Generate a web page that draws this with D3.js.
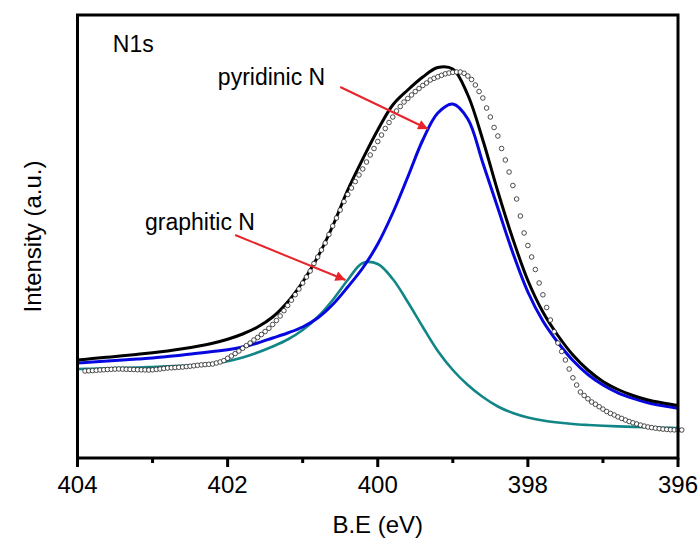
<!DOCTYPE html>
<html>
<head>
<meta charset="utf-8">
<script src="https://cdn.jsdelivr.net/npm/d3@7"></script>
<style>
  body { margin: 0; background: #fff; }
  text { font-family: Arial, "Liberation Sans", sans-serif; fill: #000; }
</style>
</head>
<body>
<svg id="chart" width="699" height="540"></svg>
<script>
// energies (eV) of the fitted curves, every 0.2 eV
const fitEnergy = [404, 403.8, 403.6, 403.4, 403.2, 403, 402.8, 402.6, 402.4, 402.2,
  402, 401.8, 401.6, 401.4, 401.2, 401, 400.8, 400.6, 400.4, 400.2,
  400, 399.8, 399.6, 399.4, 399.2, 399, 398.8, 398.6, 398.4, 398.2,
  398, 397.8, 397.6, 397.4, 397.2, 397, 396.8, 396.6, 396.4, 396.2, 396];

// envelope (black)
const envelope = [980, 994, 1008, 1022, 1037, 1053, 1071, 1092, 1117, 1148,
  1188, 1240, 1310, 1410, 1560, 1760, 2010, 2320, 2680, 2990,
  3280, 3530, 3680, 3810, 3905, 3890, 3630, 3180, 2665, 2190,
  1775, 1460, 1225, 1030, 880, 765, 685, 625, 580, 550, 525];

// pyridinic N component (blue)
const pyridinic = [950, 960, 970, 980, 990, 1000, 1015, 1030, 1048, 1065,
  1082, 1110, 1150, 1200, 1250, 1310, 1400, 1535, 1710, 1900,
  2140, 2450, 2810, 3180, 3450, 3540, 3390, 2950, 2500, 2050,
  1660, 1370, 1155, 975, 835, 730, 652, 597, 553, 522, 498];

// graphitic N component (teal)
const graphitic = [890, 893, 897, 901, 905, 910, 916, 923, 932, 945,
  968, 1005, 1055, 1115, 1185, 1280, 1410, 1580, 1780, 1950,
  1940, 1790, 1560, 1310, 1070, 880, 730, 610, 515, 450,
  405, 375, 355, 340, 330, 322, 316, 311, 307, 303, 300];

// measured spectrum (open circles), from 403.9 eV in 0.05 eV steps
const DOT_START = 403.9;
const DOT_STEP = 0.05;
const measured = [870, 872, 874, 877, 880, 882, 885, 887, 889, 890,
  889, 887, 886, 885, 883, 882, 881, 880, 882, 886,
  890, 895, 900, 902, 905, 907, 910, 914, 918, 922,
  927, 931, 934, 937, 940, 950, 960, 974, 997, 1020,
  1044, 1070, 1097, 1124, 1150, 1180, 1206, 1235, 1265, 1297,
  1335, 1375, 1420, 1473, 1525, 1578, 1633, 1690, 1750, 1810,
  1870, 1945, 2010, 2080, 2150, 2235, 2320, 2400, 2480, 2564,
  2635, 2700, 2764, 2830, 2890, 2960, 3030, 3095, 3165, 3230,
  3295, 3355, 3410, 3470, 3515, 3560, 3595, 3630, 3665, 3695,
  3725, 3750, 3780, 3797, 3812, 3827, 3842, 3850, 3857, 3860,
  3860, 3847, 3820, 3785, 3730, 3665, 3600, 3500, 3410, 3305,
  3220, 3095, 2980, 2860, 2725, 2590, 2420, 2250, 2125, 2010,
  1885, 1750, 1632, 1505, 1380, 1263, 1150, 1065, 980, 890,
  802, 730, 660, 625, 592, 560, 537, 513, 489, 465,
  446, 430, 411, 396, 380, 365, 352, 340, 329, 319,
  310, 304, 298, 293, 289, 286, 283, 281, 280, 280];

const majorTicks = [404, 402, 400, 398, 396];
const minorTicks = [403, 401, 399, 397];

// annotation labels and arrows, in data units
const labels = [
  { text: "N1s", e: 403.53, v: 4060 },
  { text: "pyridinic N", e: 402.13, v: 3730 },
  { text: "graphitic N", e: 403.1, v: 2280 }
];
const arrows = [
  { from: [400.5, 3710], to: [399.33, 3290] },
  { from: [401.9, 2230], to: [400.43, 1780] }
];

const margin = { top: 15, right: 21, bottom: 82, left: 77.5 };
const width = 699 - margin.left - margin.right;
const height = 540 - margin.top - margin.bottom;

const svg = d3.select("#chart");
const g = svg.append("g").attr("transform", `translate(${margin.left},${margin.top})`);

const x = d3.scaleLinear().domain([404, 396]).range([0, width]);
const y = d3.scaleLinear().domain([0, 4430]).range([height, 0]);

const line = d3.line()
  .x(d => x(d[0]))
  .y(d => y(d[1]))
  .curve(d3.curveCatmullRom.alpha(0.5));

const series = [
  { values: graphitic, color: "#128686", w: 2.6 },
  { values: pyridinic, color: "#0707e0", w: 3 },
  { values: envelope, color: "#000", w: 3 }
];

series.forEach(s => {
  g.append("path")
    .datum(fitEnergy.map((e, i) => [e, s.values[i]]))
    .attr("fill", "none")
    .attr("stroke", s.color)
    .attr("stroke-width", s.w)
    .attr("stroke-linejoin", "round")
    .attr("d", line);
});

// open circles
g.append("g")
  .selectAll("circle")
  .data(measured)
  .join("circle")
  .attr("cx", (d, i) => x(DOT_START - i * DOT_STEP))
  .attr("cy", d => y(d))
  .attr("r", 2.3)
  .attr("fill", "#fff")
  .attr("stroke", "#222")
  .attr("stroke-width", 0.8);

// red arrows
svg.append("defs").append("marker")
  .attr("id", "head")
  .attr("viewBox", "0 0 10 10")
  .attr("refX", 10).attr("refY", 5)
  .attr("markerWidth", 7).attr("markerHeight", 5)
  .attr("markerUnits", "strokeWidth")
  .attr("orient", "auto")
  .append("path")
  .attr("d", "M0,0L10,5L0,10Z")
  .attr("fill", "#e8242b");

g.append("g")
  .selectAll("line")
  .data(arrows)
  .join("line")
  .attr("x1", d => x(d.from[0]))
  .attr("y1", d => y(d.from[1]))
  .attr("x2", d => x(d.to[0]))
  .attr("y2", d => y(d.to[1]))
  .attr("stroke", "#e8242b")
  .attr("stroke-width", 2)
  .attr("marker-end", "url(#head)");

g.append("g")
  .selectAll("text")
  .data(labels)
  .join("text")
  .attr("x", d => x(d.e))
  .attr("y", d => y(d.v))
  .attr("font-size", 23)
  .text(d => d.text);

// frame
g.append("rect")
  .attr("width", width)
  .attr("height", height)
  .attr("fill", "none")
  .attr("stroke", "#000")
  .attr("stroke-width", 3);

// bottom axis
const xAxis = g.append("g").attr("transform", `translate(0,${height})`);
xAxis.selectAll(".major")
  .data(majorTicks)
  .join("line")
  .attr("x1", d => x(d)).attr("x2", d => x(d))
  .attr("y1", 0).attr("y2", 9)
  .attr("stroke", "#000").attr("stroke-width", 3);
xAxis.selectAll(".minor")
  .data(minorTicks)
  .join("line")
  .attr("x1", d => x(d)).attr("x2", d => x(d))
  .attr("y1", 0).attr("y2", 5)
  .attr("stroke", "#000").attr("stroke-width", 3);
xAxis.selectAll("text")
  .data(majorTicks)
  .join("text")
  .attr("x", d => x(d))
  .attr("y", 35)
  .attr("text-anchor", "middle")
  .attr("font-size", 24)
  .text(d => d);

g.append("text")
  .attr("x", width / 2)
  .attr("y", height + 75)
  .attr("text-anchor", "middle")
  .attr("font-size", 24)
  .text("B.E (eV)");

g.append("text")
  .attr("transform", `translate(-37,${height / 2}) rotate(-90)`)
  .attr("text-anchor", "middle")
  .attr("font-size", 24)
  .text("Intensity (a.u.)");
</script>
</body>
</html>
